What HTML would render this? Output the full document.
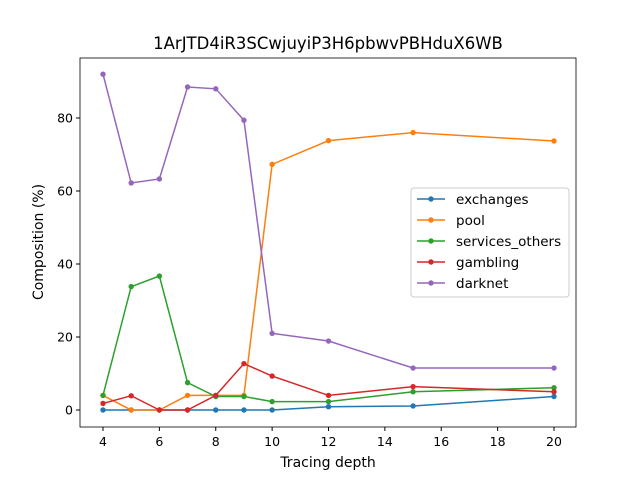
<!DOCTYPE html>
<html><head><meta charset="utf-8"><style>
body{margin:0;background:#fff;font-family:"Liberation Sans","DejaVu Sans",sans-serif}
svg text{font-family:"DejaVu Sans","Liberation Sans",sans-serif}
</style></head><body>
<svg id="chart" width="640" height="480" viewBox="0 0 640 480"></svg>
<script>
const xs=[4,5,6,7,8,9,10,12,15,20];
const seriesNames=["exchanges","pool","services_others","gambling","darknet"];
const colors=["#1f77b4","#ff7f0e","#2ca02c","#d62728","#9467bd"];
const exchanges=[0,0,0,0,0,0,0,0.9,1.1,3.7];
const pool=[4,0,0,4,4,4,67.3,73.8,76,73.7];
const services=[4,33.8,36.7,7.5,3.7,3.7,2.3,2.3,5,6.1];
const gambling=[1.8,3.9,0,0,4,12.7,9.3,4,6.4,5];
const darknet=[92,62.2,63.3,88.5,88,79.4,21,18.9,11.5,11.5];
const xTicks=[4,6,8,10,12,14,16,18,20];
const yTicks=[0,20,40,60,80];
const all=[exchanges,pool,services,gambling,darknet];
const L=80,R=576,T=58,B=427;
const X=v=>103+(v-4)*(554-103)/16;
const Y=v=>410-v*(410-118)/80;
const svg=document.getElementById('chart');
const NS="http://www.w3.org/2000/svg";
function mk(t,a,p){const e=document.createElementNS(NS,t);for(const k in a)e.setAttribute(k,a[k]);(p||svg).appendChild(e);return e;}
let e=mk('text',{x:328,y:49,'text-anchor':'middle','font-size':16.5});e.textContent="1ArJTD4iR3SCwjuyiP3H6pbwvPBHduX6WB";

xTicks.forEach(v=>{mk('line',{x1:X(v),x2:X(v),y1:B,y2:B+4,stroke:'#000'});
 const t=mk('text',{x:X(v),y:B+19,'text-anchor':'middle','font-size':12.5});t.textContent=v;
 });
yTicks.forEach(v=>{mk('line',{x1:L-4,x2:L,y1:Y(v),y2:Y(v),stroke:'#000'});
 const t=mk('text',{x:L-7,y:Y(v)+4.5,'text-anchor':'end','font-size':12.5});t.textContent=v;
 });
e=mk('text',{x:328,y:467,'text-anchor':'middle','font-size':14});e.textContent="Tracing depth";

e=mk('text',{x:43,y:242,'text-anchor':'middle','font-size':14,transform:'rotate(-90 43 242)'});e.textContent="Composition (%)";

all.forEach((s,i)=>{const g=mk('g',{});
 
 mk('polyline',{points:s.map((v,j)=>X(xs[j])+','+Y(v)).join(' '),fill:'none',stroke:colors[i],'stroke-width':1.5},g);
 s.forEach((v,j)=>mk('circle',{cx:X(xs[j]),cy:Y(v),r:2.7,fill:colors[i]},g));});
e=mk('rect',{x:L,y:T,width:R-L,height:B-T,fill:'none',stroke:'#000','stroke-width':0.8});

const lg=mk('g',{});
mk('rect',{x:411,y:188,width:158,height:109,rx:3,fill:'#fff','fill-opacity':0.8,stroke:'#ccc'},lg);
seriesNames.forEach((n,i)=>{const y=199+i*21;const g=mk('g',{},lg);
 
 mk('line',{x1:417,x2:445,y1:y,y2:y,stroke:colors[i],'stroke-width':1.5},g);
 mk('circle',{cx:431,cy:y,r:2.7,fill:colors[i]},g);
 const t=mk('text',{x:456,y:y+5,'font-size':13.5},g);t.textContent=n;});
</script>
</body></html>
